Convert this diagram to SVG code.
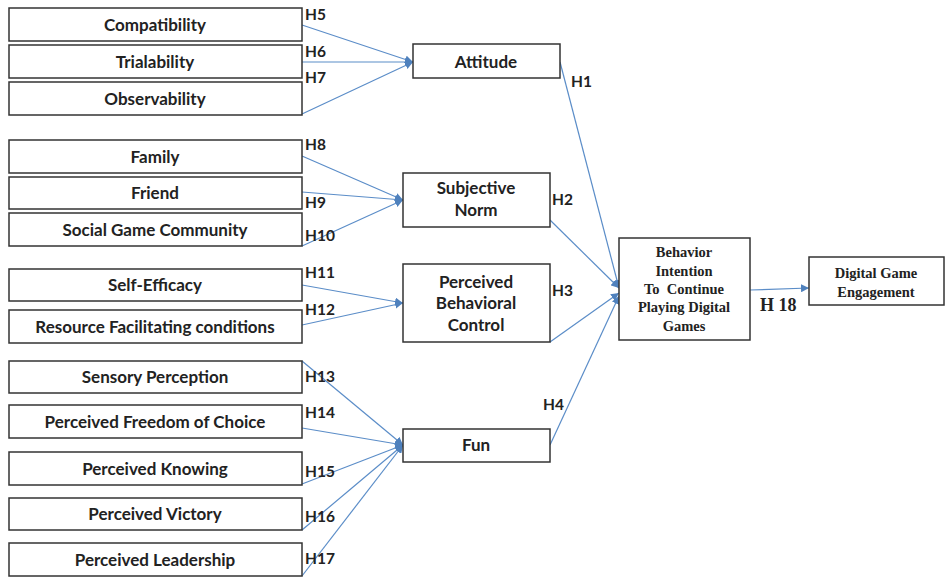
<svg xmlns="http://www.w3.org/2000/svg" width="946" height="577" viewBox="0 0 946 577">
<style>
.box{fill:#fff;stroke:#333;stroke-width:1.5}
.t{font-family:Lato,"Open Sans",sans-serif;font-weight:bold;font-size:17px;fill:#222;text-anchor:middle}
.h{font-family:Lato,"Open Sans",sans-serif;font-weight:bold;font-size:15.5px;fill:#222}
.s{font-family:"Liberation Serif",serif;font-weight:bold;font-size:14.5px;fill:#222;text-anchor:middle}
.c{fill:none;stroke:#5b8dc8;stroke-width:1.2}
</style>
<defs>
<marker id="a" viewBox="0 0 10 10" refX="10" refY="5" markerWidth="8" markerHeight="8" orient="auto" markerUnits="userSpaceOnUse">
<path d="M0,0 L10,5 L0,10 z" fill="#4f81bd"/>
</marker>
<clipPath id="cpbc"><rect x="403" y="264" width="147" height="67"/></clipPath>
<clipPath id="cbi"><rect x="619" y="238" width="131" height="93"/></clipPath>
</defs>
<g id="connectors">
<path class="c" d="M302,25 L413,62" marker-end="url(#a)"/>
<path class="c" d="M302,62 L413,62" marker-end="url(#a)"/>
<path class="c" d="M302,114 L413,62" marker-end="url(#a)"/>
<path class="c" d="M302,156 L403,200" marker-end="url(#a)"/>
<path class="c" d="M302,192 L403,200" marker-end="url(#a)"/>
<path class="c" d="M302,246 L403,200" marker-end="url(#a)"/>
<path class="c" d="M302,285 L403,303" marker-end="url(#a)"/>
<path class="c" d="M302,325 L403,303" marker-end="url(#a)"/>
<path class="c" d="M302,361 L403,445" marker-end="url(#a)"/>
<path class="c" d="M302,428 L403,445" marker-end="url(#a)"/>
<path class="c" d="M302,484 L403,445" marker-end="url(#a)"/>
<path class="c" d="M302,530 L403,445" marker-end="url(#a)"/>
<path class="c" d="M302,576 L403,445" marker-end="url(#a)"/>
<path class="c" d="M560,62 L619,288" marker-end="url(#a)"/>
<path class="c" d="M550,220 L619,288" marker-end="url(#a)"/>
<path class="c" d="M550,342 L619,293" marker-end="url(#a)"/>
<path class="c" d="M550,445 L619,296" marker-end="url(#a)"/>
<path class="c" d="M750,290 L809,288" marker-end="url(#a)"/>
</g>
<g id="labels">
<text class="h" x="305" y="20">H5</text>
<text class="h" x="305" y="57">H6</text>
<text class="h" x="305" y="83">H7</text>
<text class="h" x="571" y="87">H1</text>
<text class="h" x="305" y="150">H8</text>
<text class="h" x="305" y="208">H9</text>
<text class="h" x="305" y="241">H10</text>
<text class="h" x="552" y="205">H2</text>
<text class="h" x="305" y="278">H11</text>
<text class="h" x="305" y="315">H12</text>
<text class="h" x="552" y="296">H3</text>
<text class="h" x="305" y="382">H13</text>
<text class="h" x="305" y="418">H14</text>
<text class="h" x="305" y="477">H15</text>
<text class="h" x="305" y="522">H16</text>
<text class="h" x="305" y="564">H17</text>
<text class="h" x="543" y="410">H4</text>
<text x="760" y="311" style="font-family:'Liberation Serif',serif;font-weight:bold;font-size:18px;fill:#222">H 18</text>
</g>
<g id="n-compat"><rect class="box" x="9" y="8" width="293" height="33"/><text class="t" x="155" y="31">Compatibility</text></g>
<g id="n-trial"><rect class="box" x="9" y="45" width="293" height="33"/><text class="t" x="155" y="68">Trialability</text></g>
<g id="n-obs"><rect class="box" x="9" y="82" width="293" height="33"/><text class="t" x="155" y="105">Observability</text></g>
<g id="n-family"><rect class="box" x="9" y="140" width="293" height="33"/><text class="t" x="155" y="163">Family</text></g>
<g id="n-friend"><rect class="box" x="9" y="177" width="293" height="32"/><text class="t" x="155" y="199">Friend</text></g>
<g id="n-social"><rect class="box" x="9" y="213" width="293" height="33"/><text class="t" x="155" y="236">Social Game Community</text></g>
<g id="n-self"><rect class="box" x="9" y="269" width="293" height="32"/><text class="t" x="155" y="291">Self-Efficacy</text></g>
<g id="n-resource"><rect class="box" x="9" y="310" width="293" height="33"/><text class="t" x="155" y="333">Resource Facilitating conditions</text></g>
<g id="n-sensory"><rect class="box" x="9" y="361" width="293" height="32"/><text class="t" x="155" y="383">Sensory Perception</text></g>
<g id="n-freedom"><rect class="box" x="9" y="405" width="293" height="33"/><text class="t" x="155" y="428">Perceived Freedom of Choice</text></g>
<g id="n-knowing"><rect class="box" x="9" y="452" width="293" height="33"/><text class="t" x="155" y="475">Perceived Knowing</text></g>
<g id="n-victory"><rect class="box" x="9" y="498" width="293" height="32"/><text class="t" x="155" y="520">Perceived Victory</text></g>
<g id="n-leader"><rect class="box" x="9" y="543" width="293" height="33"/><text class="t" x="155" y="566">Perceived Leadership</text></g>
<g id="n-attitude"><rect class="box" x="413" y="44" width="147" height="34"/><text class="t" x="486" y="68">Attitude</text></g>
<g id="n-sn"><rect class="box" x="403" y="173" width="147" height="54"/><text class="t" x="476" y="194">Subjective</text><text class="t" x="476" y="216">Norm</text></g>
<g id="n-pbc"><rect class="box" x="403" y="264" width="147" height="78"/><g clip-path="url(#cpbc)"><text class="t" x="476" y="288">Perceived</text><text class="t" x="476" y="309">Behavioral</text><text class="t" x="476" y="331">Control</text></g></g>
<g id="n-fun"><rect class="box" x="403" y="429" width="147" height="33"/><text class="t" x="476" y="451">Fun</text></g>
<g id="n-bi"><rect class="box" x="619" y="238" width="131" height="102"/><g clip-path="url(#cbi)"><text class="s" x="684" y="257">Behavior</text><text class="s" x="684" y="276">Intention</text><text class="s" x="684" y="294" xml:space="preserve">To  Continue</text><text class="s" x="684" y="312">Playing Digital</text><text class="s" x="684" y="331">Games</text></g></g>
<g id="n-dge"><rect class="box" x="809" y="257" width="135" height="48"/><text class="s" x="876" y="278">Digital Game</text><text class="s" x="876" y="297">Engagement</text></g>
</svg>
